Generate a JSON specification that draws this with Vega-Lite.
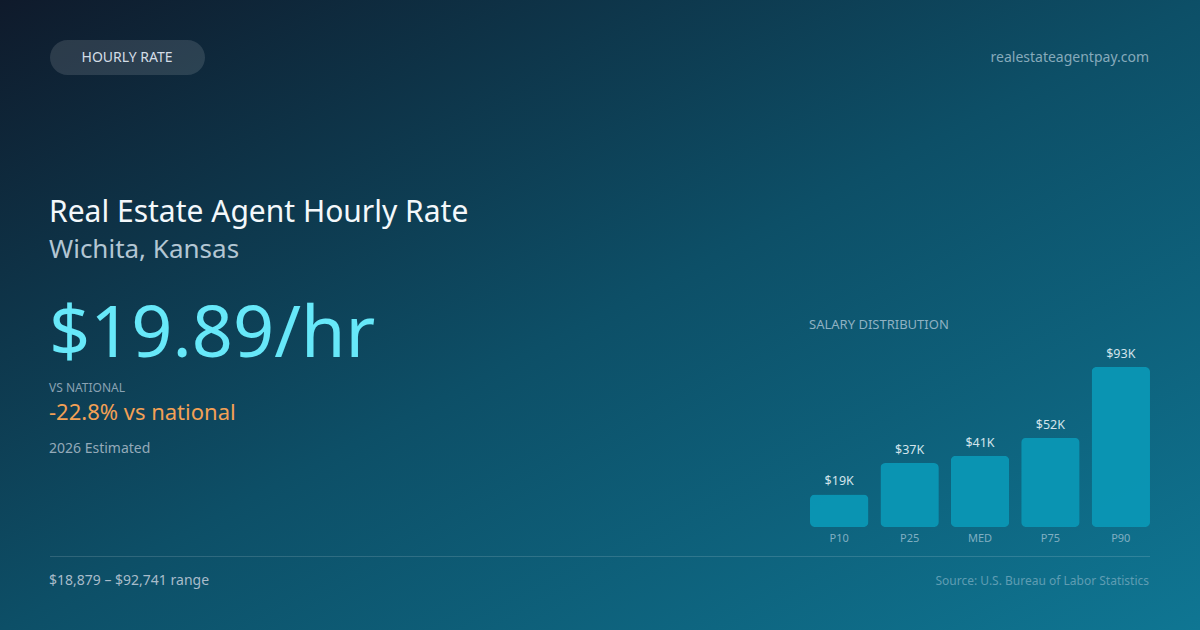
{
  "$schema": "https://vega.github.io/schema/vega-lite/v6.json",
  "width": 1200,
  "height": 630,
  "padding": 0,
  "autosize": {"type": "fit", "contains": "padding"},
  "background": "#0f1b2d",
  "config": {"view": {"stroke": null}, "font": "Noto Sans"},
  "datasets": {
    "bars": [
      {"pct": "P10", "value": 18879, "label": "$19K"},
      {"pct": "P25", "value": 37100, "label": "$37K"},
      {"pct": "MED", "value": 41371, "label": "$41K"},
      {"pct": "P75", "value": 51700, "label": "$52K"},
      {"pct": "P90", "value": 92741, "label": "$93K"}
    ],
    "one": [{}]
  },
  "layer": [
    {
      "data": {"name": "one"},
      "mark": {"type": "rect", "x": 0, "y": 0, "x2": 1200, "y2": 630,
        "color": {"gradient": "linear", "x1": 0, "y1": 0, "x2": 1, "y2": 1,
          "stops": [
            {"offset": 0, "color": "#0f1a2b"},
            {"offset": 0.5, "color": "#0d4f67"},
            {"offset": 1, "color": "#0f7693"}
          ]}},
      "encoding": {}
    },
    {
      "data": {"name": "one"},
      "mark": {"type": "rect", "x": 50, "x2": 205, "y": 40, "y2": 75, "cornerRadius": 17.5, "color": "#ffffff", "opacity": 0.12},
      "encoding": {}
    },
    {
      "data": {"name": "one"},
      "mark": {"type": "text", "x": 127, "y": 58, "align": "center", "baseline": "middle", "text": "HOURLY RATE", "fontSize": 14, "color": "#d3dde6"},
      "encoding": {}
    },
    {
      "data": {"name": "one"},
      "mark": {"type": "text", "x": 1149, "y": 58, "align": "right", "baseline": "middle", "text": "realestateagentpay.com", "fontSize": 14, "color": "#86aabb"},
      "encoding": {}
    },
    {
      "data": {"name": "one"},
      "mark": {"type": "text", "x": 49, "y": 213, "align": "left", "baseline": "middle", "text": "Real Estate Agent Hourly Rate", "fontSize": 30, "color": "#f4f8fb"},
      "encoding": {}
    },
    {
      "data": {"name": "one"},
      "mark": {"type": "text", "x": 49, "y": 250, "align": "left", "baseline": "middle", "text": "Wichita, Kansas", "fontSize": 26, "color": "#b3c6d3"},
      "encoding": {}
    },
    {
      "data": {"name": "one"},
      "mark": {"type": "text", "x": 49, "y": 357, "align": "left", "baseline": "alphabetic", "text": "$19.89/hr", "fontSize": 72, "color": "#67e8f9"},
      "encoding": {}
    },
    {
      "data": {"name": "one"},
      "mark": {"type": "text", "x": 49, "y": 388, "align": "left", "baseline": "middle", "text": "VS NATIONAL", "fontSize": 12, "color": "#8aa2b3"},
      "encoding": {}
    },
    {
      "data": {"name": "one"},
      "mark": {"type": "text", "x": 49, "y": 413, "align": "left", "baseline": "middle", "text": "-22.8% vs national", "fontSize": 22, "color": "#f3a055"},
      "encoding": {}
    },
    {
      "data": {"name": "one"},
      "mark": {"type": "text", "x": 49, "y": 449, "align": "left", "baseline": "middle", "text": "2026 Estimated", "fontSize": 14, "color": "#94aab9"},
      "encoding": {}
    },
    {
      "data": {"name": "one"},
      "mark": {"type": "rect", "x": 50, "x2": 1150, "y": 556, "y2": 557, "color": "#ffffff", "opacity": 0.14},
      "encoding": {}
    },
    {
      "data": {"name": "one"},
      "mark": {"type": "text", "x": 49, "y": 581, "align": "left", "baseline": "middle", "text": "$18,879 – $92,741 range", "fontSize": 14, "color": "#a9bcca"},
      "encoding": {}
    },
    {
      "data": {"name": "one"},
      "mark": {"type": "text", "x": 1149, "y": 581, "align": "right", "baseline": "middle", "text": "Source: U.S. Bureau of Labor Statistics", "fontSize": 12, "color": "#5f9db3"},
      "encoding": {}
    },
    {
      "data": {"name": "one"},
      "mark": {"type": "text", "x": 809, "y": 325, "align": "left", "baseline": "middle", "text": "SALARY DISTRIBUTION", "fontSize": 13, "color": "#8fb1c2"},
      "encoding": {}
    },
    {
      "data": {"name": "bars"},
      "mark": {"type": "bar", "cornerRadius": 5, "color": "#0a98b6", "opacity": 0.92},
      "encoding": {
        "x": {"field": "pct", "type": "nominal", "sort": null, "axis": null,
          "scale": {"range": [810, 1150], "paddingInner": 0.17, "paddingOuter": 0}},
        "y": {"field": "value", "type": "quantitative", "axis": null,
          "scale": {"domain": [0, 92741], "range": [527, 367], "nice": false, "zero": true}}
      }
    },
    {
      "data": {"name": "bars"},
      "mark": {"type": "text", "dy": -13, "baseline": "middle", "align": "center", "fontSize": 12.5, "color": "#d3e4eb"},
      "encoding": {
        "x": {"field": "pct", "type": "nominal", "sort": null, "axis": null},
        "y": {"field": "value", "type": "quantitative", "axis": null},
        "text": {"field": "label"}
      }
    },
    {
      "data": {"name": "bars"},
      "mark": {"type": "text", "dy": 12, "baseline": "middle", "align": "center", "fontSize": 11, "color": "#80afc2"},
      "encoding": {
        "x": {"field": "pct", "type": "nominal", "sort": null, "axis": null},
        "y": {"datum": 0, "type": "quantitative"},
        "text": {"field": "pct"}
      }
    }
  ]
}
